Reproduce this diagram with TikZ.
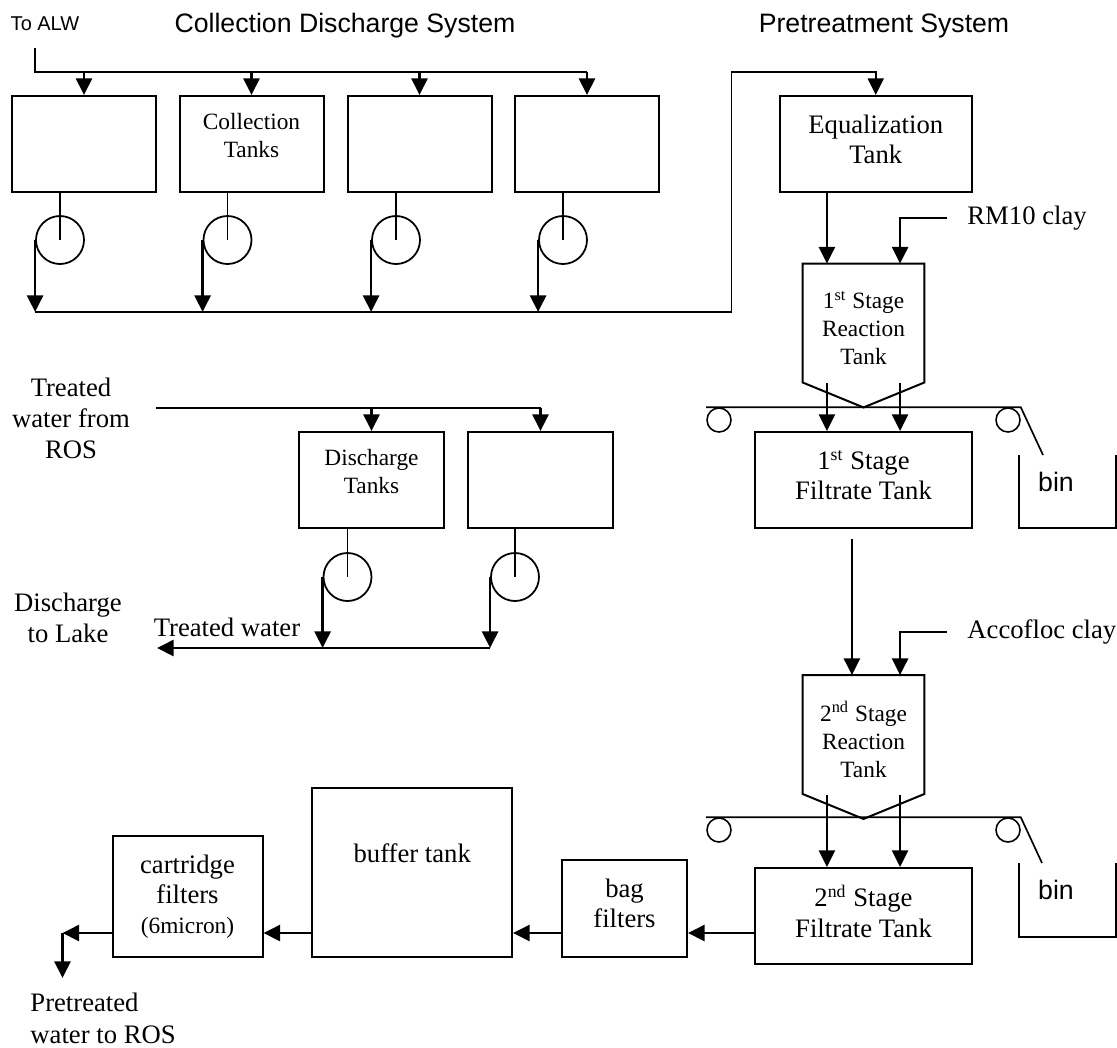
\documentclass[tikz,border=0pt]{standalone}
\usepackage{fontspec}
\setmainfont{Liberation Serif}
\setsansfont{Liberation Sans}
\usepackage{tikz}
\usetikzlibrary{calc}
\usetikzlibrary{arrows.meta}

\tikzset{
	tank/.style={draw, line width=0.9pt, align=center, inner sep=0pt, font=\fontsize{12}{13.6}\selectfont},
	smalltank/.style={tank, font=\fontsize{10.5}{12.4}\selectfont},
	shell/.style={inner sep=0pt, align=center, font=\fontsize{10.5}{12.6}\selectfont},
	lift/.style={text depth=#1},
	outline/.style={line width=0.9pt},
	pump/.style={draw, circle, line width=0.8pt, minimum size=21.6pt, inner sep=0pt},
	roller/.style={draw, circle, line width=0.7pt, minimum size=10.8pt, inner sep=0pt},
	pipe/.style={line width=0.75pt},
	tip/.style={-{Triangle[length=7.5pt, width=7.2pt]}},
	flow/.style={line width=1.2pt, tip},
	txt/.style={align=center, inner sep=0pt, font=\fontsize{12}{14}\selectfont},
	sans/.style={inner sep=0pt, font=\sffamily\fontsize{12}{14}\selectfont}
}

\begin{document}
\begin{tikzpicture}[x=0.45pt, y=-0.45pt]
	\useasboundingbox (0,0) rectangle (1117,1047);
	
	\node[
	sans,
	font=\sffamily\fontsize{9}{11}\selectfont
	] (ToALW) at (45,24) {To ALW};
	
	\node[sans] (CollTitle) at (345,26) {Collection Discharge System};
	
	\node[sans] (PreTitle) at (884,26) {Pretreatment System};
	
	% ---
	
	\node[
	smalltank,
	minimum width=64.8pt,
	minimum height=43.2pt
	] (CollTank-1) at (84,144) {};
	
	\node[
	smalltank,
	lift=7.6pt,
	minimum width=64.8pt,
	minimum height=43.2pt
	] (CollTank-2) at (251.5,144) {Collection\\Tanks};
	
	\node[
	smalltank,
	minimum width=64.8pt,
	minimum height=43.2pt
	] (CollTank-3) at (419.5,144) {};
	
	\node[
	smalltank,
	minimum width=64.8pt,
	minimum height=43.2pt
	] (CollTank-4) at (587,144) {};
	
	\node[pump] (CollPump-1) at (60,240) {};
	\node[pump] (CollPump-2) at (227.5,240) {};
	\node[pump] (CollPump-3) at (396,240) {};
	\node[pump] (CollPump-4) at (563,240) {};
	
	\coordinate (ALW) at (35,48);
	\coordinate (CollHeader) at (0,72);
	\coordinate (CollManifold) at (0,312);
	\coordinate (EqRiser) at (731.6,72);
	
	% ---
	
	\node[
	tank,
	lift=4.5pt,
	minimum width=86.6pt,
	minimum height=43.2pt
	] (EqTank) at (875.75,144) {Equalization\\Tank};
	
	\node[
	shell,
	lift=6.8pt,
	minimum width=54.45pt,
	minimum height=64.35pt
	] (ReactTank-1) at (863.5,335.5) {1\textsuperscript{st} Stage\\Reaction\\Tank};
	
	\node[txt, anchor=west] (RM10) at (967,218) {RM10 clay};
	
	\node[
	tank,
	lift=4.5pt,
	minimum width=97.65pt,
	minimum height=43.2pt
	] (FiltTank-1) at (863.5,480) {1\textsuperscript{st} Stage\\Filtrate Tank};
	
	\node[roller] (Roller-1a) at (719,420) {};
	\node[roller] (Roller-1b) at (1008,420) {};
	\coordinate (BinDrop-1) at (1043,455);
	
	\node[sans] (Bin-1) at (1056,482) {bin};
	
	% ---
	
	\node[
	shell,
	lift=6.8pt,
	minimum width=54.45pt,
	minimum height=64.35pt
	] (ReactTank-2) at (863.5,747) {2\textsuperscript{nd} Stage\\Reaction\\Tank};
	
	\node[txt, anchor=west] (Accofloc) at (967,632) {Accofloc clay};
	
	\node[
	tank,
	lift=4.5pt,
	minimum width=97.65pt,
	minimum height=43.2pt
	] (FiltTank-2) at (863.5,916) {2\textsuperscript{nd} Stage\\Filtrate Tank};
	
	\node[roller] (Roller-2a) at (719,830) {};
	\node[roller] (Roller-2b) at (1008,830) {};
	\coordinate (BinDrop-2) at (1042,863);
	
	\node[sans] (Bin-2) at (1056,890) {bin};
	
	% ---
	
	\node[
	tank,
	lift=5pt,
	minimum width=56.25pt,
	minimum height=43.65pt
	] (BagFilt) at (624.5,908.5) {bag\\filters};
	
	\node[
	tank,
	minimum width=89.8pt,
	minimum height=76pt,
	label={[txt, yshift=8.6pt]center:buffer tank}
	] (BufTank) at (412.25,872.5) {};
	
	\node[
	tank,
	minimum width=67.5pt,
	minimum height=54.45pt
	] (CartFilt) at (187.5,896.5) {cartridge\\filters\\{\fontsize{10.5}{12}\selectfont(6micron)}};
	
	\node[txt, anchor=north west, align=left] (PreROS) at (30,993) {Pretreated\\water to ROS};
	
	\coordinate (BottomLine) at (0,933);
	\coordinate (ROSOut) at (62.5,933);
	\coordinate (ROSDown) at (62.5,978);
	
	% ---
	
	\node[txt] (ROSIn) at (71,418) {Treated\\water from\\ROS};
	
	\node[
	smalltank,
	lift=7.6pt,
	minimum width=65.25pt,
	minimum height=43.2pt
	] (DisTank-1) at (371.5,480) {Discharge\\Tanks};
	
	\node[
	smalltank,
	minimum width=65.25pt,
	minimum height=43.2pt
	] (DisTank-2) at (540.5,480) {};
	
	\node[pump] (DisPump-1) at (347.5,577) {};
	\node[pump] (DisPump-2) at (515,577) {};
	
	\node[txt] (TreatedLbl) at (227,627) {Treated water};
	\node[txt] (Lake) at (68,618) {Discharge\\to Lake};
	
	\coordinate (DisHeader) at (156,408);
	\coordinate (DisManifold) at (0,648);
	\coordinate (LakeOut) at (157,648);
	
	% --- tank outlines
	
	\draw[outline] (ReactTank-1.north west) -- (ReactTank-1.north east)
	-- ($(ReactTank-1.south east)+(0,-25)$) -- (ReactTank-1.south)
	-- ($(ReactTank-1.south west)+(0,-25)$) -- cycle;
	
	\draw[outline] (ReactTank-2.north west) -- (ReactTank-2.north east)
	-- ($(ReactTank-2.south east)+(0,-25)$) -- (ReactTank-2.south)
	-- ($(ReactTank-2.south west)+(0,-25)$) -- cycle;
	
	\draw[pipe] (1019,455) -- (1019,528) -- (1116,528) -- (1116,455);
	\draw[pipe] (1019,863) -- (1019,937) -- (1116,937) -- (1116,863);
	
	\coordinate (RT1-inL) at ($(ReactTank-1.north west)!0.2!(ReactTank-1.north east)$);
	\coordinate (RT1-inR) at ($(ReactTank-1.north west)!0.8!(ReactTank-1.north east)$);
	\coordinate (RT1-outL) at ($(ReactTank-1.south west)!0.2!(ReactTank-1.south east)+(0,-24)$);
	\coordinate (RT1-outR) at ($(ReactTank-1.south west)!0.8!(ReactTank-1.south east)+(0,-24)$);
	
	\coordinate (RT2-inM) at ($(ReactTank-2.north west)!0.405!(ReactTank-2.north east)$);
	\coordinate (RT2-inR) at ($(ReactTank-2.north west)!0.8!(ReactTank-2.north east)$);
	\coordinate (RT2-outL) at ($(ReactTank-2.south west)!0.2!(ReactTank-2.south east)+(0,-24)$);
	\coordinate (RT2-outR) at ($(ReactTank-2.south west)!0.8!(ReactTank-2.south east)+(0,-24)$);
	\coordinate (Link-12) at ($(FiltTank-1.south -| RT2-inM)+(0,10)$);
	
	% --- collection side
	
	\draw[pipe] (ALW) |- (CollTank-4.north |- CollHeader);
	
	\draw[flow] (CollTank-1.north |- CollHeader) -- (CollTank-1.north);
	\draw[flow] (CollTank-2.north |- CollHeader) -- (CollTank-2.north);
	\draw[flow] (CollTank-3.north |- CollHeader) -- (CollTank-3.north);
	\draw[flow] (CollTank-4.north |- CollHeader) -- (CollTank-4.north);
	
	\draw[pipe] (CollPump-1 |- CollTank-1.south) -- (CollPump-1.center);
	\draw[pipe] (CollPump-2 |- CollTank-2.south) -- (CollPump-2.center);
	\draw[pipe] (CollPump-3 |- CollTank-3.south) -- (CollPump-3.center);
	\draw[pipe] (CollPump-4 |- CollTank-4.south) -- (CollPump-4.center);
	
	\draw[flow] (CollPump-1.west) -- (CollPump-1.west |- CollManifold);
	\draw[flow] (CollPump-2.west) -- (CollPump-2.west |- CollManifold);
	\draw[flow] (CollPump-3.west) -- (CollPump-3.west |- CollManifold);
	\draw[flow] (CollPump-4.west) -- (CollPump-4.west |- CollManifold);
	
	\draw[pipe, tip] (CollPump-1.west |- CollManifold) -| (EqRiser) -| (EqTank.north);
	
	% --- pretreatment side
	
	\draw[flow] (EqTank.south -| RT1-inL) -- (RT1-inL);
	\draw[flow] ([xshift=-9pt]RM10.west) -| (RT1-inR);
	
	\draw[flow] (RT1-outL) -- (RT1-outL |- FiltTank-1.north);
	\draw[flow] (RT1-outR) -- (RT1-outR |- FiltTank-1.north);
	
	\draw[pipe] (Roller-1a.west |- Roller-1a.north) -- (Roller-1b.east |- Roller-1b.north) -- (BinDrop-1);
	
	\draw[flow] (Link-12) -- (RT2-inM);
	\draw[flow] ([xshift=-9pt]Accofloc.west) -| (RT2-inR);
	
	\draw[flow] (RT2-outL) -- (RT2-outL |- FiltTank-2.north);
	\draw[flow] (RT2-outR) -- (RT2-outR |- FiltTank-2.north);
	
	\draw[pipe] (Roller-2a.west |- Roller-2a.north) -- (Roller-2b.east |- Roller-2b.north) -- (BinDrop-2);
	
	\draw[flow] (FiltTank-2.west |- BottomLine) -- (BagFilt.east |- BottomLine);
	\draw[flow] (BagFilt.west |- BottomLine) -- (BufTank.east |- BottomLine);
	\draw[flow] (BufTank.west |- BottomLine) -- (CartFilt.east |- BottomLine);
	\draw[flow] (CartFilt.west |- BottomLine) -- (ROSOut);
	\draw[flow] (ROSOut) -- (ROSDown);
	
	% --- discharge side
	
	\draw[pipe] (DisHeader) -- (DisTank-2.north |- DisHeader);
	
	\draw[flow] (DisTank-1.north |- DisHeader) -- (DisTank-1.north);
	\draw[flow] (DisTank-2.north |- DisHeader) -- (DisTank-2.north);
	
	\draw[pipe] (DisPump-1 |- DisTank-1.south) -- (DisPump-1.center);
	\draw[pipe] (DisPump-2 |- DisTank-2.south) -- (DisPump-2.center);
	
	\draw[flow] (DisPump-1.west) -- (DisPump-1.west |- DisManifold);
	\draw[flow] (DisPump-2.west) -- (DisPump-2.west |- DisManifold);
	
	\draw[flow] (DisPump-2.west |- DisManifold) -- (LakeOut);
\end{tikzpicture}
\end{document}
